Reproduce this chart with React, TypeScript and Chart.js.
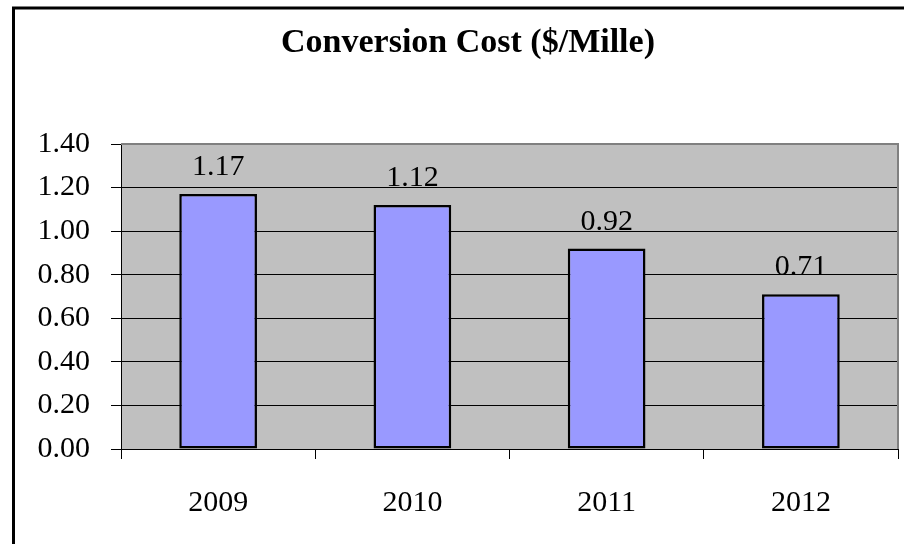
import React, { useEffect, useRef } from "react";
import { Chart, registerables } from "chart.js";

Chart.register(...registerables);

const categories = ["2009", "2010", "2011", "2012"];
const costValues = [1.17, 1.12, 0.92, 0.71];
const chartTitle = "Conversion Cost ($/Mille)";
const yMin = 0;
const yMax = 1.4;
const yStep = 0.2;

const FONT = "'Liberation Serif', 'Times New Roman', serif";

const decorPlugin = {
  id: "decor",
  beforeDraw(chart: any) {
    const { ctx, chartArea } = chart;
    ctx.save();
    ctx.fillStyle = "#ffffff";
    ctx.fillRect(0, 0, chart.width, chart.height);
    ctx.fillStyle = "#C0C0C0";
    ctx.fillRect(chartArea.left, chartArea.top, chartArea.right - chartArea.left, chartArea.bottom - chartArea.top);
    ctx.restore();
  },
  afterDraw(chart: any) {
    const { ctx, chartArea } = chart;
    ctx.save();
    // plot border (top & right) in gray
    ctx.strokeStyle = "#808080";
    ctx.lineWidth = 2;
    ctx.beginPath();
    ctx.moveTo(chartArea.left, chartArea.top);
    ctx.lineTo(chartArea.right, chartArea.top);
    ctx.lineTo(chartArea.right, chartArea.bottom);
    ctx.stroke();
    // outer chart border (top & left visible)
    ctx.strokeStyle = "#000000";
    ctx.lineWidth = 3;
    ctx.beginPath();
    ctx.moveTo(13.5, chart.height + 5);
    ctx.lineTo(13.5, 8);
    ctx.lineTo(chart.width + 5, 8);
    ctx.stroke();
    // title
    ctx.fillStyle = "#000000";
    ctx.font = `bold 34px ${FONT}`;
    ctx.textAlign = "center";
    ctx.textBaseline = "alphabetic";
    ctx.fillText(chartTitle, 468, 52);
    ctx.restore();
  },
  afterDatasetsDraw(chart: any) {
    const { ctx } = chart;
    const meta = chart.getDatasetMeta(0);
    ctx.save();
    ctx.fillStyle = "#000000";
    ctx.font = `30px ${FONT}`;
    ctx.textAlign = "center";
    ctx.textBaseline = "alphabetic";
    meta.data.forEach((bar: any, i: number) => {
      const v = chart.data.datasets[0].data[i] as number;
      ctx.fillText(v.toFixed(2), bar.x, bar.y - 19);
    });
    ctx.restore();
  },
};

export default function App() {
  const ref = useRef<HTMLCanvasElement | null>(null);
  useEffect(() => {
    if (!ref.current) return;
    const chart = new Chart(ref.current, {
      type: "bar",
      data: {
        labels: categories,
        datasets: [
          {
            data: costValues,
            backgroundColor: "#9999FF",
            borderColor: "#000000",
            borderWidth: 2.5,
            borderSkipped: false,
            barPercentage: 0.4,
            categoryPercentage: 1,
          },
        ],
      },
      options: {
        animation: false,
        responsive: false,
        maintainAspectRatio: false,
        layout: { padding: { left: 0, right: 6, top: 144, bottom: 0 } },
        plugins: {
          legend: { display: false },
          title: { display: false },
          tooltip: { enabled: false },
        },
        scales: {
          x: {
            offset: true,
            afterFit: (s: any) => {
              s.height = 95;
            },
            grid: {
              offset: true,
              drawOnChartArea: false,
              drawTicks: true,
              tickLength: 10,
              color: "#000000",
            },
            border: { display: true, color: "#000000", width: 1 },
            ticks: {
              color: "#000000",
              font: { family: FONT, size: 30 },
              padding: 26,
              maxRotation: 0,
            },
          },
          y: {
            min: yMin,
            max: yMax,
            afterFit: (s: any) => {
              s.width = 121;
            },
            grid: {
              color: "#000000",
              tickLength: 10,
              drawTicks: true,
            },
            border: { display: true, color: "#000000", width: 1 },
            ticks: {
              stepSize: yStep,
              color: "#000000",
              font: { family: FONT, size: 30 },
              padding: 21,
              callback: (v: any) => Number(v).toFixed(2),
            },
          },
        },
      },
      plugins: [decorPlugin],
    });
    return () => chart.destroy();
  }, []);
  return (
    <div style={{ position: "absolute", left: 0, top: 0, width: 904, height: 544 }}>
      <canvas ref={ref} width={904} height={544} style={{ display: "block", width: 904, height: 544 }} />
    </div>
  );
}
